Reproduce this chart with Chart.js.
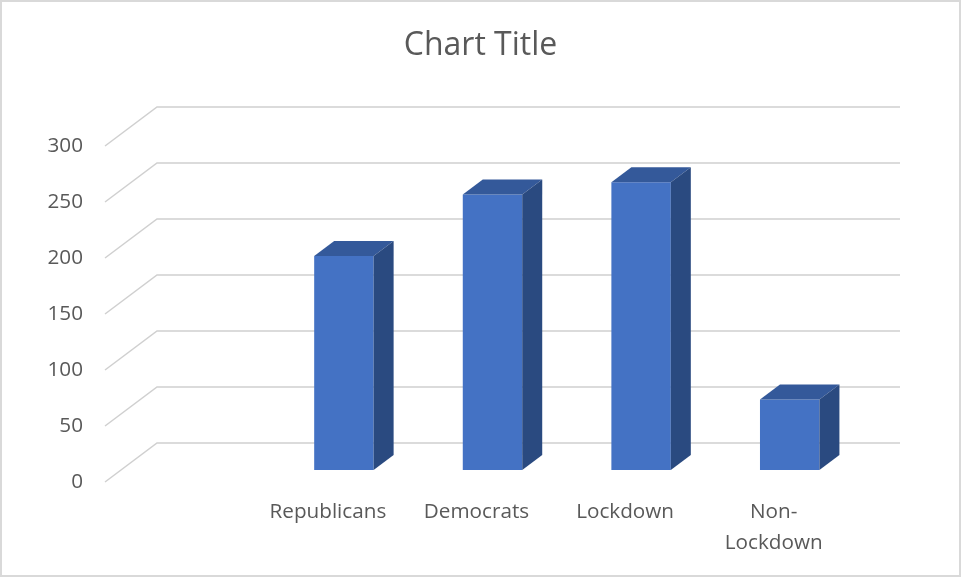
<!DOCTYPE html>
<html>
<head>
<meta charset="utf-8">
<title>Chart Title</title>
<script src="https://cdn.jsdelivr.net/npm/chart.js@4/dist/chart.umd.min.js"></script>
<style>
  html, body { margin: 0; padding: 0; background: #ffffff; }
  #wrap { width: 961px; height: 577px; position: relative; }
</style>
</head>
<body>
<div id="wrap"><canvas id="myChart"></canvas></div>
<script>
// data (first category is an empty row in the sheet)
const categories = ['', 'Republicans', 'Democrats', 'Lockdown', ['Non-', 'Lockdown']];
const values = [null, 191, 246, 257, 63];
const yTicks = [0, 50, 100, 150, 200, 250, 300];

const chart = document.querySelector('#myChart');
const textColor = '#595959';
const fontFamily = "'Open Sans', 'Noto Sans', sans-serif";

// oblique offsets relative to the plane of the bar fronts
const depth = { dx: 20, dy: -15 };   // bar depth
const wall = { dx: 36, dy: -27 };    // back wall
const front = { dx: -16, dy: 12 };   // front edge (axis labels)

const frame = {
    id: 'frame',
    beforeDraw(c) {
        const ctx = c.ctx;
        ctx.save();
        ctx.fillStyle = '#ffffff';
        ctx.fillRect(0, 0, c.width, c.height);
        ctx.strokeStyle = '#d9d9d9';
        ctx.lineWidth = 2;
        ctx.strokeRect(1, 1, c.width - 2, c.height - 2);
        ctx.restore();
    }
};

const walls = {
    id: 'walls',
    beforeDatasetsDraw(c) {
        const ctx = c.ctx;
        const area = c.chartArea;
        const y = c.scales.y;
        ctx.save();
        ctx.strokeStyle = '#d0d0d0';
        ctx.lineWidth = 1.5;
        yTicks.forEach((v) => {
            const py = y.getPixelForValue(v);
            ctx.beginPath();
            ctx.moveTo(area.left + front.dx, py + front.dy);
            ctx.lineTo(area.left + wall.dx, py + wall.dy);
            ctx.lineTo(area.right + wall.dx, py + wall.dy);
            ctx.stroke();
        });
        ctx.restore();
    }
};

const boxes = {
    id: 'boxes',
    afterDatasetsDraw(c) {
        const ctx = c.ctx;
        const meta = c.getDatasetMeta(0);
        ctx.save();
        meta.data.forEach((bar, i) => {
            if (values[i] === null) return;
            const p = bar.getProps(['x', 'y', 'base', 'width'], true);
            const l = p.x - p.width / 2;
            const r = p.x + p.width / 2;
            // top face
            ctx.fillStyle = '#34599a';
            ctx.beginPath();
            ctx.moveTo(l, p.y);
            ctx.lineTo(l + depth.dx, p.y + depth.dy);
            ctx.lineTo(r + depth.dx, p.y + depth.dy);
            ctx.lineTo(r, p.y);
            ctx.closePath();
            ctx.fill();
            // side face
            ctx.fillStyle = '#2a4a80';
            ctx.beginPath();
            ctx.moveTo(r, p.y);
            ctx.lineTo(r + depth.dx, p.y + depth.dy);
            ctx.lineTo(r + depth.dx, p.base + depth.dy);
            ctx.lineTo(r, p.base);
            ctx.closePath();
            ctx.fill();
        });
        ctx.restore();
    }
};

let myChart = new Chart(chart, {
    type: 'bar',
    data: {
        labels: categories,
        datasets: [{
            label: 'Series 1',
            data: values,
            backgroundColor: '#4472c4',
            borderWidth: 0,
            categoryPercentage: 1,
            barPercentage: 0.4
        }]
    },
    options: {
        responsive: true,
        maintainAspectRatio: false,
        animation: false,
        plugins: {
            legend: { display: false },
            tooltip: { enabled: false },
            title: {
                display: true,
                text: 'Chart Title',
                color: textColor,
                font: { family: fontFamily, size: 32, weight: 'normal', lineHeight: 1.2 },
                padding: { top: 27, bottom: 68.6 }
            }
        },
        scales: {
            x: {
                grid: { display: false, drawTicks: false },
                border: { display: false },
                ticks: {
                    color: textColor,
                    font: { family: fontFamily, size: 20.7, lineHeight: 1.52 },
                    padding: 26,
                    labelOffset: front.dx,
                    maxRotation: 0,
                    autoSkip: false
                },
                afterFit(scale) { scale.height = 107; }
            },
            y: {
                min: 0,
                max: 300,
                grid: { display: false, drawTicks: false },
                border: { display: false },
                ticks: {
                    stepSize: 50,
                    color: textColor,
                    font: { family: fontFamily, size: 20.7 },
                    padding: 38,
                    labelOffset: front.dy
                },
                afterFit(scale) { scale.width = 121; }
            },
            // empty right axis, only keeps the room right of the plot
            yRight: {
                position: 'right',
                grid: { display: false, drawTicks: false },
                border: { display: false },
                ticks: { display: false },
                afterFit(scale) { scale.width = 97; }
            }
        }
    },
    plugins: [frame, walls, boxes]
});
</script>
</body>
</html>
